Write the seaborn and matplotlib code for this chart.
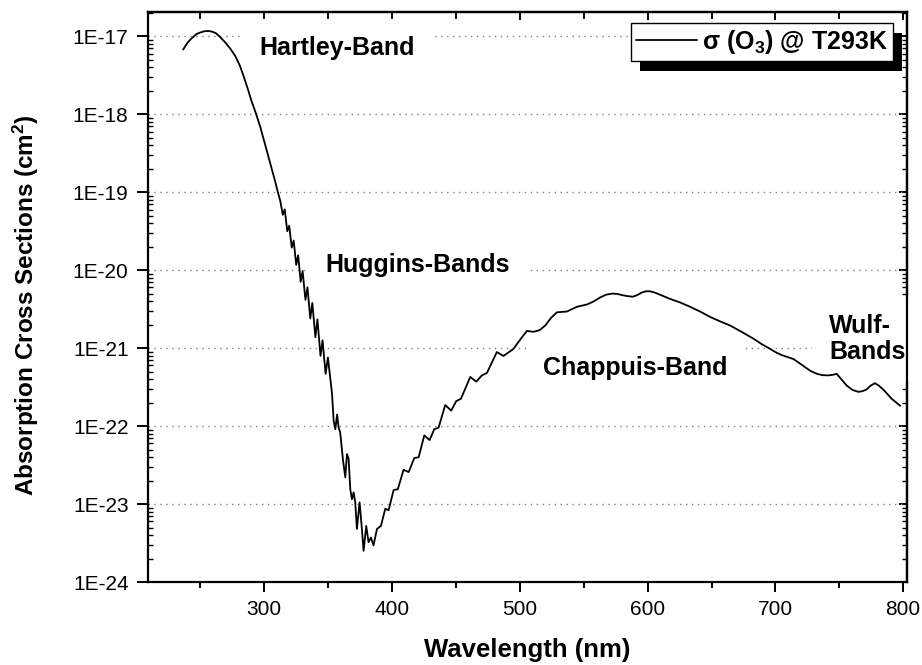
import numpy as np
import pandas as pd
import matplotlib
matplotlib.use("Agg")
import matplotlib.pyplot as plt
import seaborn as sns
from matplotlib.ticker import (FixedLocator, FixedFormatter, LogLocator,
                               MultipleLocator, NullFormatter)
from matplotlib.patches import Rectangle
from matplotlib.transforms import IdentityTransform

# ---------------- data ----------------
wavelength_nm = [
    236.5, 240.0, 243.5, 247.0, 250.0, 253.0, 256.0, 259.0, 262.0, 265.5,
    269.5, 273.5, 277.5, 281.0, 284.0, 287.0, 290.0, 293.5, 297.0, 300.0,
    303.0, 306.0, 308.5, 310.5, 312.5, 314.5, 316.0, 318.0, 319.5, 321.5,
    323.0, 325.0, 326.5, 328.5, 330.0, 332.2, 333.8, 336.0, 337.6, 340.0,
    341.6, 344.0, 345.6, 348.0, 349.8, 351.6, 353.0, 354.3, 355.6, 357.0,
    358.2, 359.4, 361.5, 363.4, 364.7, 366.0, 367.3, 368.6, 369.9, 371.2,
    372.5, 374.6, 376.4, 377.7, 379.8, 381.6, 383.5, 385.5, 388.2, 391.3,
    394.7, 397.3, 401.2, 404.5, 409.0, 413.0, 417.4, 420.8, 425.2, 429.4,
    433.0, 436.4, 441.6, 446.3, 450.2, 453.9, 461.2, 465.9, 470.3, 474.2,
    482.0, 487.2, 495.0, 500.5, 505.5, 510.7, 515.5, 519.9, 524.5, 529.0,
    536.9, 544.7, 552.5, 557.5, 562.9, 567.5, 572.5, 576.5, 580.0, 584.0,
    588.5, 592.0, 595.0, 598.5, 601.5, 605.0, 609.0, 617.7, 625.5, 633.3,
    641.0, 649.0, 656.8, 664.6, 673.5, 682.9, 689.5, 695.9, 700.5, 705.1,
    714.2, 722.0, 727.5, 732.5, 737.0, 741.5, 745.0, 748.0, 751.5, 755.8,
    760.5, 764.9, 768.0, 771.4, 774.5, 777.9, 781.0, 784.4, 791.0, 797.7,
]
sigma_cm2 = [
    6.76e-18, 8.32e-18, 9.55e-18, 1.07e-17, 1.12e-17, 1.16e-17, 1.17e-17, 1.15e-17, 1.10e-17, 9.77e-18,
    8.32e-18, 6.92e-18, 5.50e-18, 4.17e-18, 3.02e-18, 2.14e-18, 1.48e-18, 1.02e-18, 6.76e-19, 4.47e-19,
    2.95e-19, 1.95e-19, 1.38e-19, 1.02e-19, 7.76e-20, 5.13e-20, 6.03e-20, 3.16e-20, 3.72e-20, 1.95e-20,
    2.40e-20, 1.17e-20, 1.55e-20, 7.08e-21, 9.77e-21, 4.17e-21, 6.03e-21, 2.40e-21, 3.80e-21, 1.38e-21,
    2.34e-21, 7.94e-22, 1.26e-21, 4.68e-22, 7.59e-22, 4.17e-22, 2.63e-22, 1.17e-22, 9.12e-23, 1.41e-22,
    9.55e-23, 8.32e-23, 3.80e-23, 2.19e-23, 4.37e-23, 3.80e-23, 1.55e-23, 1.15e-23, 1.41e-23, 1.05e-23,
    4.79e-24, 1.05e-23, 4.79e-24, 2.51e-24, 5.25e-24, 3.24e-24, 3.72e-24, 2.95e-24, 4.79e-24, 5.25e-24,
    8.71e-24, 8.32e-24, 1.51e-23, 1.55e-23, 2.75e-23, 2.57e-23, 3.89e-23, 3.98e-23, 7.59e-23, 6.61e-23,
    9.12e-23, 9.55e-23, 1.86e-22, 1.58e-22, 2.09e-22, 2.24e-22, 4.27e-22, 3.72e-22, 4.47e-22, 4.79e-22,
    8.91e-22, 7.94e-22, 9.77e-22, 1.30e-21, 1.66e-21, 1.62e-21, 1.70e-21, 1.95e-21, 2.45e-21, 2.88e-21,
    2.95e-21, 3.39e-21, 3.63e-21, 3.95e-21, 4.47e-21, 4.85e-21, 5.01e-21, 4.95e-21, 4.79e-21, 4.65e-21,
    4.57e-21, 4.80e-21, 5.13e-21, 5.35e-21, 5.37e-21, 5.20e-21, 4.90e-21, 4.27e-21, 3.85e-21, 3.39e-21,
    2.95e-21, 2.51e-21, 2.20e-21, 1.95e-21, 1.62e-21, 1.32e-21, 1.12e-21, 9.77e-22, 8.80e-22, 8.13e-22,
    7.24e-22, 5.89e-22, 5.10e-22, 4.68e-22, 4.50e-22, 4.47e-22, 4.55e-22, 4.68e-22, 4.00e-22, 3.31e-22,
    2.90e-22, 2.75e-22, 2.80e-22, 2.95e-22, 3.30e-22, 3.55e-22, 3.30e-22, 2.95e-22, 2.24e-22, 1.82e-22,
]
x_ticks = [300, 400, 500, 600, 700, 800]
y_ticks = [1e-24, 1e-23, 1e-22, 1e-21, 1e-20, 1e-19, 1e-18, 1e-17]
y_tick_labels = ["1E-24", "1E-23", "1E-22", "1E-21", "1E-20", "1E-19", "1E-18", "1E-17"]
legend_label = r"σ (O$_\mathbf{3}$) @ T293K"
x_label = "Wavelength (nm)"
y_label = r"Absorption Cross Sections (cm$^\mathbf{2}$)"
band_names = ["Hartley-Band", "Huggins-Bands", "Chappuis-Band", "Wulf-\nBands"]

# ---------------- style ----------------
sns.set_style("ticks")
plt.rcParams["font.family"] = ["Liberation Sans", "DejaVu Sans"]
plt.rcParams["mathtext.fontset"] = "custom"
plt.rcParams["mathtext.rm"] = "Liberation Sans"
plt.rcParams["mathtext.it"] = "Liberation Sans:italic"
plt.rcParams["mathtext.bf"] = "Liberation Sans:bold"
for k in ("text.color", "axes.labelcolor", "xtick.color", "ytick.color",
          "axes.edgecolor"):
    plt.rcParams[k] = "black"

fig = plt.figure(figsize=(9.22, 6.65), dpi=100)
ax = fig.add_axes([148 / 922, 1 - 582 / 665, 759 / 922, 570 / 665])

df = pd.DataFrame({"wavelength": wavelength_nm, "sigma": sigma_cm2})
sns.lineplot(data=df, x="wavelength", y="sigma", ax=ax, color="black",
             linewidth=1.3, label=legend_label, estimator=None, sort=False,
             zorder=3)
for ln in ax.get_lines():
    ln.set_solid_joinstyle("round")
    ln.set_solid_capstyle("round")

ax.set_yscale("log")
ax.set_xlim(209, 803)
ax.set_ylim(1e-24, 2.05e-17)

# grid
ax.set_axisbelow(True)
ax.yaxis.grid(True, which="major", color="#808080",
              linestyle=(0, (1, 3.3)), linewidth=1.0)
ax.xaxis.grid(False)

# ticks
ax.xaxis.set_major_locator(FixedLocator(x_ticks))
ax.xaxis.set_minor_locator(MultipleLocator(50))
ax.yaxis.set_major_locator(FixedLocator(y_ticks))
ax.yaxis.set_major_formatter(FixedFormatter(y_tick_labels))
ax.yaxis.set_minor_locator(LogLocator(base=10, subs=np.arange(2, 10), numticks=30))
ax.yaxis.set_minor_formatter(NullFormatter())

ax.tick_params(axis="x", which="major", direction="out", length=7, width=1.4,
               labelsize=15, pad=6, top=False, color="black", labelcolor="black")
ax.tick_params(axis="x", which="minor", direction="out", length=4.5, width=1.4,
               top=False)
ax.tick_params(axis="y", which="major", direction="out", length=8, width=1.4,
               labelsize=15, pad=6, right=False, labelcolor="black")
ax.tick_params(axis="y", which="minor", direction="in", length=3.5, width=1.0,
               right=False)

secx = ax.secondary_xaxis("top")
secx.xaxis.set_major_locator(FixedLocator(x_ticks))
secx.xaxis.set_minor_locator(MultipleLocator(50))
secx.tick_params(axis="x", which="major", direction="in", length=6, width=1.4,
                 labeltop=False)
secx.tick_params(axis="x", which="minor", direction="in", length=5, width=1.4)

secy = ax.secondary_yaxis("right")
secy.yaxis.set_major_locator(FixedLocator(y_ticks))
secy.yaxis.set_minor_locator(LogLocator(base=10, subs=np.arange(2, 10), numticks=30))
secy.yaxis.set_major_formatter(NullFormatter())
secy.yaxis.set_minor_formatter(NullFormatter())
secy.tick_params(axis="y", which="major", direction="in", length=6, width=1.4,
                 labelright=False)
secy.tick_params(axis="y", which="minor", direction="in", length=3.5, width=1.0)

for a in (ax, secx, secy):
    for s in a.spines.values():
        s.set_linewidth(1.6)
        s.set_color("black")

ax.set_xlabel(x_label, fontsize=18.5, fontweight="bold", labelpad=14)
ax.set_ylabel(y_label, fontsize=17.5, fontweight="bold")
ax.yaxis.set_label_coords(-0.141, 0.485)

# band labels with white boxes (hide grid behind them)
box = dict(facecolor="white", edgecolor="none", pad=12.5)
txt_kw = dict(fontsize=18, fontweight="bold", ha="left", va="baseline",
              bbox=box, zorder=1.8)
ax.text(296.1, 5.7e-18, band_names[0], **txt_kw)
ax.text(347.7, 9.5e-21, band_names[1], **txt_kw)
ax.text(518.3, 4.5e-22, band_names[2], **txt_kw)
ax.text(742.1, 7.2e-22, band_names[3], linespacing=1.12, **txt_kw)

# legend with Origin-like drop shadow
leg = ax.legend(loc="upper right", bbox_to_anchor=(0.9816, 0.9807),
                borderaxespad=0, frameon=True, fancybox=False,
                edgecolor="black", framealpha=1,
                prop={"weight": "bold", "size": 18},
                handlelength=2.45, handletextpad=0.2, borderpad=0.2)
leg.get_frame().set_linewidth(1.0)
leg.set_zorder(6)
for h in leg.get_lines():
    h.set_linewidth(1.3)
for t in leg.get_texts():
    t.set_color("black")

fig.canvas.draw()
bb = leg.get_window_extent()
shadow = Rectangle((bb.x0 + 9, bb.y0 - 10), bb.width, bb.height,
                   transform=IdentityTransform(), facecolor="black",
                   edgecolor="none", zorder=5.5, clip_on=False)
ax.add_patch(shadow)

fig.savefig("out.png", dpi=100)
